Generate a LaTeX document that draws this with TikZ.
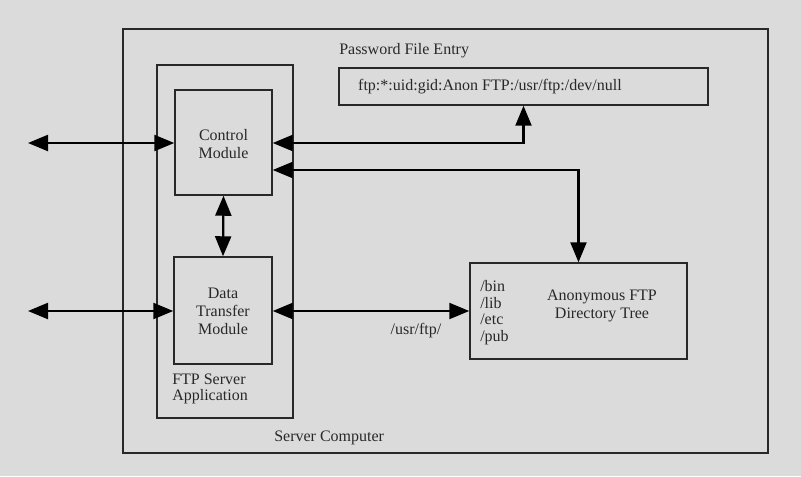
\documentclass[tikz,border=0pt]{standalone}
\usepackage{fontspec}
\setmainfont{Liberation Serif}
\usetikzlibrary{arrows.meta}
\definecolor{bg}{RGB}{219,219,219}
\definecolor{ink}{RGB}{40,40,40}
\begin{document}
\begin{tikzpicture}[x=0.75pt,y=-0.75pt,
  box/.style={draw=ink,line width=1.1pt,inner sep=0pt},
  lbl/.style={text=ink,font=\fontsize{12}{13.5}\selectfont,inner sep=0pt,align=center},
  arr/.style={draw=black,line width=1.7pt,{Triangle[length=15pt,width=12pt]}-{Triangle[length=15pt,width=12pt]}},
]
\fill[bg] (0,0) rectangle (801,476);
\useasboundingbox (0,0) rectangle (801,476);
% boxes
\node[box,minimum width=645*0.75pt,minimum height=424*0.75pt] (server) at (445.5,241) {};
\node[box,minimum width=136*0.75pt,minimum height=353*0.75pt] (app) at (225,241.5) {};
\node[box,minimum width=97*0.75pt,minimum height=105*0.75pt] (control) at (223.5,142.5) {};
\node[box,minimum width=98*0.75pt,minimum height=107*0.75pt] (data) at (223,310.5) {};
\node[box,minimum width=369*0.75pt,minimum height=37*0.75pt] (pwd) at (523.5,86.5) {};
\node[box,minimum width=217*0.75pt,minimum height=96*0.75pt] (anon) at (578.5,311) {};
% texts
\node[lbl] (tcontrol) at (223.5,144) {Control\\Module};
\node[lbl] (tdata) at (223,311) {Data\\Transfer\\Module};
\node[lbl,anchor=west] (tapp) at (172,389) {\begin{tabular}{@{}l@{}}FTP Server\\[-2pt]Application\end{tabular}};
\node[lbl,anchor=west] (tserver) at (274,438) {Server Computer};
\node[lbl,anchor=west] (tpwdtitle) at (339,51) {Password File Entry};
\node[lbl] (tpwd) at (490,87) {ftp:*:uid:gid:Anon FTP:/usr/ftp:/dev/null};
\node[lbl,anchor=west] (tdirs) at (480,313) {\begin{tabular}{@{}l@{}}/bin\\[-1pt]/lib\\[-1pt]/etc\\[-1pt]/pub\end{tabular}};
\node[lbl] (tanon) at (602,306) {Anonymous FTP\\Directory Tree};
\node[lbl] (tusr) at (416,331) {/usr/ftp/};
% free ends
\coordinate (lc) at (28,143);
\coordinate (ld) at (28,311);
% connectors
\draw[arr] (lc) -- (control.west |- lc);
\draw[arr] (ld) -- (data.west |- ld);
\draw[arr] (control.south) -- (data.north);
\draw[arr] (data.east |- ld) -- (anon.west |- ld);
\draw[arr] (control.east |- lc) -| (pwd.south);
\draw[arr] (control.east |- 0,170) -| (anon.north);
\end{tikzpicture}
\end{document}
